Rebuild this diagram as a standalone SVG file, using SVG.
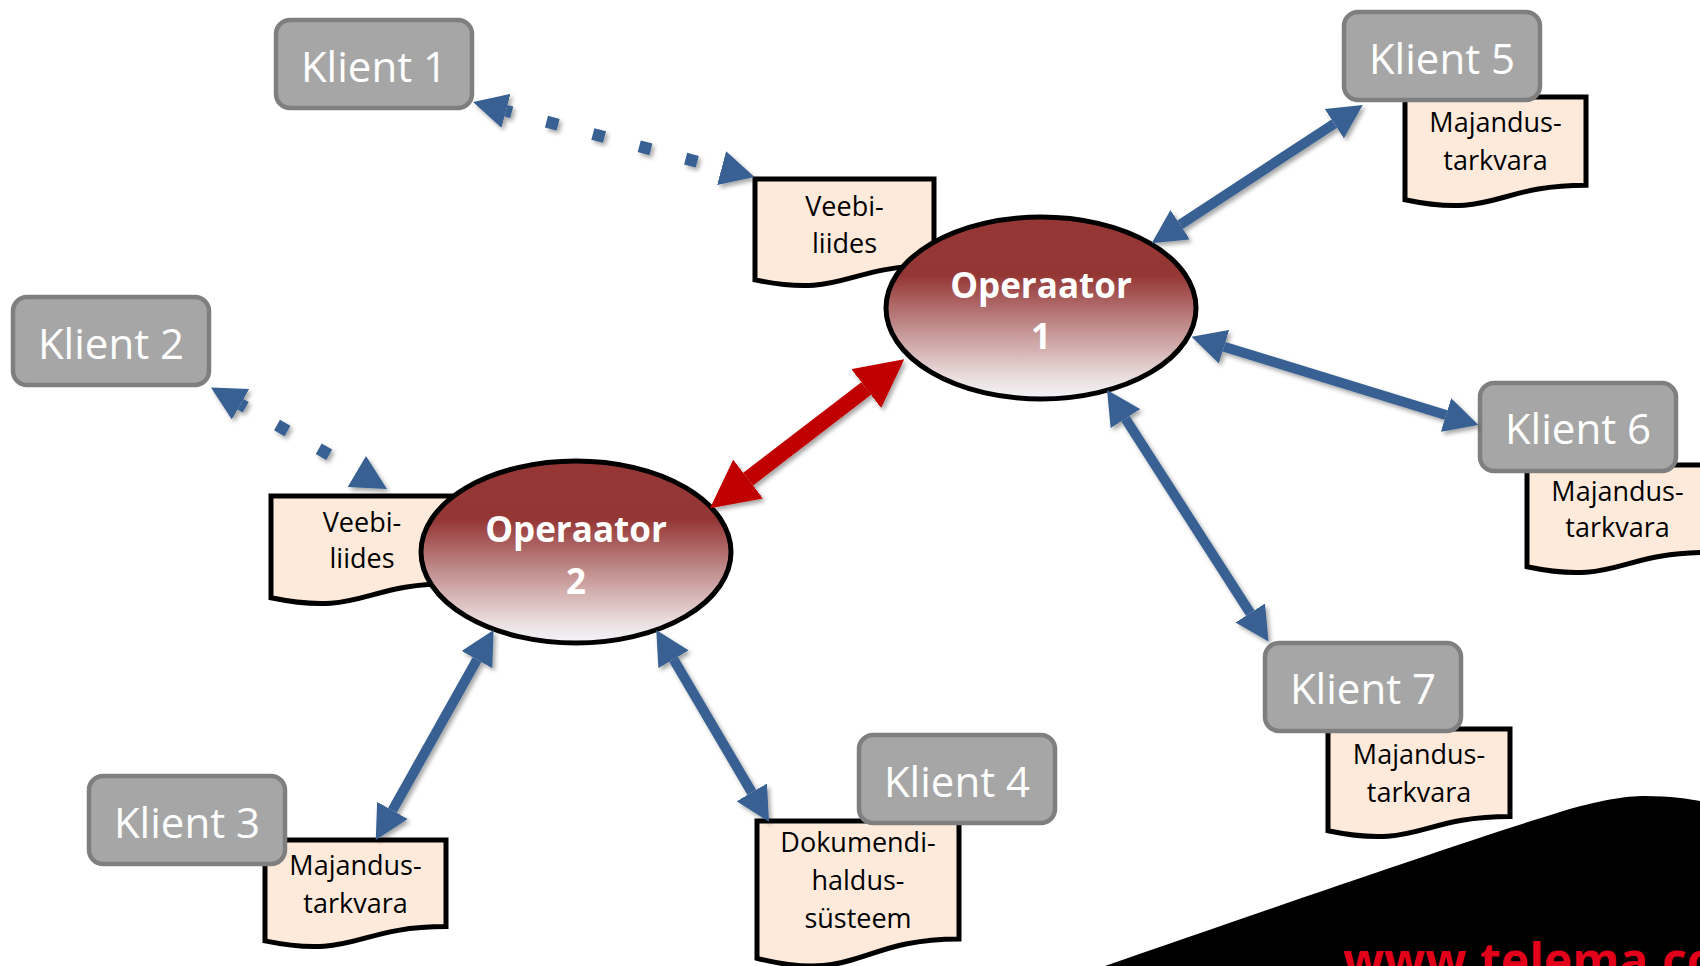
<svg xmlns="http://www.w3.org/2000/svg" width="1700" height="966" viewBox="0 0 1700 966">
<defs>
<style>
.klient rect{fill:#a6a6a6;stroke:#7f7f7f;stroke-width:4.5}
.klient text{font-family:"Open Sans","Noto Sans","Liberation Sans",sans-serif;font-size:42px;fill:#ffffff;text-anchor:middle}
.doc path{fill:#fdeada;stroke:#000000;stroke-width:5;stroke-linejoin:miter}
.doc text{font-family:"Open Sans","Noto Sans","Liberation Sans",sans-serif;font-size:27px;fill:#000000;text-anchor:middle}
.op ellipse{fill:url(#opGrad);stroke:#000000;stroke-width:5}
.op text{font-family:"Open Sans","Noto Sans","Liberation Sans",sans-serif;font-size:35px;font-weight:bold;fill:#ffffff;text-anchor:middle}
.blue{fill:none;stroke:#376092;stroke-width:10;marker-start:url(#blueHead);marker-end:url(#blueHead)}
.dotted{fill:none;stroke:#376092;stroke-width:12;stroke-dasharray:12 36;stroke-dashoffset:6;marker-start:url(#blueHead)}
.red{fill:none;stroke:#c00000;stroke-width:16;marker-start:url(#redHead);marker-end:url(#redHead)}
.headfill{fill:#376092}
.web{font-family:"Open Sans","Noto Sans","Liberation Sans",sans-serif;font-size:48px;font-weight:bold;fill:#e2001a}
</style>
<linearGradient id="opGrad" x1="0" y1="0" x2="0" y2="1">
<stop offset="0" stop-color="#953735"/>
<stop offset="0.32" stop-color="#943634"/>
<stop offset="0.6" stop-color="#c08c8c"/>
<stop offset="0.88" stop-color="#ebdddd"/>
<stop offset="1" stop-color="#f2f5fa"/>
</linearGradient>
<marker id="blueHead" markerUnits="userSpaceOnUse" viewBox="0 -17.5 34 35" markerWidth="34" markerHeight="35" refX="0" refY="0" orient="auto-start-reverse">
<path d="M0,-17.5 L34,0 L0,17.5 Z" fill="#376092"/>
</marker>
<marker id="redHead" markerUnits="userSpaceOnUse" viewBox="0 -24.5 48 49" markerWidth="48" markerHeight="49" refX="0" refY="0" orient="auto-start-reverse">
<path d="M0,-24.5 L48,0 L0,24.5 Z" fill="#c00000"/>
</marker>
<filter id="shadow" x="-10%" y="-10%" width="120%" height="120%">
<feDropShadow dx="2.5" dy="3" stdDeviation="2" flood-color="#000000" flood-opacity="0.35"/>
</filter>
</defs>
<rect x="0" y="0" width="1700" height="966" fill="#ffffff"/>
<g id="swoosh">
<path d="M1105,966 C1250,916 1450,846 1560,812 C1600,800 1625,796 1645,796 C1670,796 1690,799 1700,801 L1700,966 Z" fill="#000000"/>
<text class="web" x="1343" y="978">www.telema.co</text>
</g>
<g id="doc-veebiliides-1" class="doc">
<path d="M755,179 H934 V265.6 C844.5,265.6 844.5,298.6 755,279.9 Z"/>
<text x="844.5" y="216">Veebi-</text>
<text x="844.5" y="253">liides</text>
</g>
<g id="doc-veebiliides-2" class="doc">
<path d="M271,496 H453 V583.4 C362,583.4 362,616.7 271,597.8 Z"/>
<text x="362" y="532">Veebi-</text>
<text x="362" y="568">liides</text>
</g>
<g id="doc-klient5" class="doc">
<path d="M1405,97 H1586 V185.2 C1495.5,185.2 1495.5,218.8 1405,199.7 Z"/>
<text x="1495.5" y="132">Majandus-</text>
<text x="1495.5" y="170">tarkvara</text>
</g>
<g id="doc-klient6" class="doc">
<path d="M1527,465 H1708 V552.4 C1617.5,552.4 1617.5,585.7 1527,566.8 Z"/>
<text x="1617.5" y="501">Majandus-</text>
<text x="1617.5" y="537">tarkvara</text>
</g>
<g id="doc-klient7" class="doc">
<path d="M1328,729 H1510 V816.4 C1419,816.4 1419,849.7 1328,830.8 Z"/>
<text x="1419" y="764">Majandus-</text>
<text x="1419" y="802">tarkvara</text>
</g>
<g id="doc-klient3" class="doc">
<path d="M265,840 H446 V926.6 C355.5,926.6 355.5,959.6 265,940.9 Z"/>
<text x="355.5" y="875">Majandus-</text>
<text x="355.5" y="913">tarkvara</text>
</g>
<g id="doc-klient4" class="doc">
<path d="M757,821 H959 V938.9 C858,938.9 858,983.7 757,958.3 Z"/>
<text x="858" y="852">Dokumendi-</text>
<text x="858" y="890">haldus-</text>
<text x="858" y="928">süsteem</text>
</g>
<g id="operaator1" class="op">
<ellipse cx="1041" cy="308" rx="155" ry="91"/>
<text x="1041" y="298">Operaator</text>
<text x="1041" y="349">1</text>
</g>
<g id="operaator2" class="op">
<ellipse cx="576" cy="552" rx="155" ry="91"/>
<text x="576" y="542">Operaator</text>
<text x="576" y="594">2</text>
</g>
<g id="klient1" class="klient"><rect x="276" y="20" width="196" height="88" rx="14"/><text x="374" y="82">Klient 1</text></g>
<g id="klient2" class="klient"><rect x="13" y="297" width="196" height="88" rx="14"/><text x="111" y="359">Klient 2</text></g>
<g id="klient3" class="klient"><rect x="89" y="776" width="196" height="88" rx="14"/><text x="187" y="838">Klient 3</text></g>
<g id="klient4" class="klient"><rect x="859" y="735" width="196" height="88" rx="14"/><text x="957" y="797">Klient 4</text></g>
<g id="klient5" class="klient"><rect x="1344" y="12" width="196" height="88" rx="14"/><text x="1442" y="74">Klient 5</text></g>
<g id="klient6" class="klient"><rect x="1480" y="383" width="196" height="88" rx="14"/><text x="1578" y="444">Klient 6</text></g>
<g id="klient7" class="klient"><rect x="1265" y="643" width="196" height="88" rx="14"/><text x="1363" y="704">Klient 7</text></g>
<g id="connectors" filter="url(#shadow)">
<path class="dotted" d="M505.9,110.8 L721.6,168.2" marker-end="url(#blueHead)"/>
<path class="dotted" d="M240.5,404.3 L329.7,455"/>
<polygon class="headfill" points="366,456 347.7,487 387,489"/>
<path class="red" d="M748.1,479.1 L866.2,388.5"/>
<path class="blue" d="M1180.1,224.7 L1334.3,123.6"/>
<path class="blue" d="M1224,346.7 L1446,415"/>
<path class="blue" d="M1125.4,418.6 L1250.2,613"/>
<path class="blue" d="M477,659.6 L392.4,810.4"/>
<path class="blue" d="M673.5,659.3 L751.8,792.4"/>
</g>
</svg>
